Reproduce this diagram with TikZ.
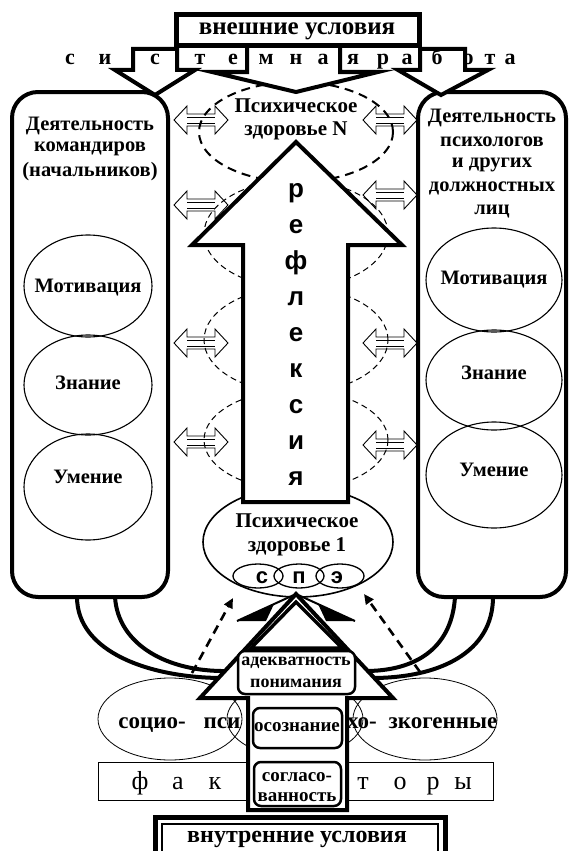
\documentclass[tikz,border=0pt]{standalone}
\usepackage{fontspec}
\setmainfont{Liberation Serif}
\newfontfamily\sansf{Liberation Sans}
\usetikzlibrary{arrows.meta}
\newcommand\fsz[1]{\fontsize{#1}{#1}\selectfont}
\begin{document}
\begin{tikzpicture}[x=1pt,y=-1pt,
  heavy/.style={line width=4pt, line join=miter},
  thinl/.style={line width=1.1pt},
  lbl/.style={inner sep=0pt, font=\bfseries\fsz{20.5}},
  pzl/.style={inner sep=0pt, font=\bfseries\fsz{21}},
  big/.style={inner sep=0pt, font=\bfseries\fsz{25}},
  sysl/.style={inner sep=0pt, anchor=base, font=\bfseries\fsz{22}},
  reflet/.style={inner sep=0pt, anchor=base, font=\sansf\bfseries\fsz{26}},
  spel/.style={inner sep=0pt, anchor=base, font=\sansf\bfseries\fsz{22}},
  facl/.style={inner sep=0pt, anchor=base, font=\fsz{26}},
  socl/.style={inner sep=0pt, anchor=base, font=\bfseries\fsz{23}},
  inbox/.style={draw, line width=2.5pt, rounded corners=7pt, fill=white},
  inl/.style={inner sep=0pt, font=\bfseries\fsz{19}},
  dasharr/.style={line width=2.6pt, dash pattern=on 9pt off 6pt, -{Triangle[length=10pt,width=9pt]}},
  dbl/.pic={\draw[line width=0.9pt] (-27,0) -- (-14,-14) -- (-14,-6) -- (14,-6) -- (14,-14) -- (27,0) -- (14,14) -- (14,6) -- (-14,6) -- (-14,14) -- cycle;
            \draw[line width=0.6pt] (-14,-3) -- (14,-3) (-14,3) -- (14,3);}
]
\useasboundingbox (0,0) rectangle (573,851);

% ---------- dashed chain in centre ----------
\draw[line width=2pt, dash pattern=on 9pt off 6pt] (296,132) ellipse [x radius=97pt, y radius=50pt];
\draw[line width=1pt, dash pattern=on 6pt off 4pt] (296,234) ellipse [x radius=92pt, y radius=54pt];
\draw[line width=1pt, dash pattern=on 6pt off 4pt] (296,340) ellipse [x radius=92pt, y radius=53pt];
\draw[line width=1pt, dash pattern=on 6pt off 4pt] (296,440) ellipse [x radius=92pt, y radius=50pt];

% ---------- Psychic health 1 ----------
\draw[line width=1.6pt] (298,542) ellipse [x radius=95pt, y radius=55pt];
\draw[line width=1.3pt] (258,576) ellipse [x radius=25pt, y radius=12pt];
\draw[line width=1.3pt] (299,576) ellipse [x radius=25pt, y radius=12pt];
\draw[line width=1.3pt] (340,576) ellipse [x radius=24pt, y radius=12pt];
\node[spel] (sc) at (262,583) {с};
\node[spel] (sp) at (299,583) {п};
\node[spel] (se) at (337,583) {э};
\node[pzl] (pz1a) at (297,521) {Психическое};
\node[pzl] (pz1b) at (297,547) {здоровье 1};

% ---------- big reflection arrow ----------
\draw[heavy, fill=white] (296,142) -- (402,245) -- (348,245) -- (348,502) -- (243,502) -- (243,245) -- (192,245) -- cycle;
\foreach \c/\y [count=\i] in {р/197, е/233, ф/269, л/305, е/341, к/377, с/413, и/449, я/485}
  \node[reflet] (rf\i) at (296,\y) {\c};

\node[pzl] (pzna) at (296,106) {Психическое};
\node[pzl] (pznb) at (296,131) {здоровье N};

% ---------- double arrows ----------
\foreach \x/\y in {201/120, 201/205, 201/343, 201/442, 390/120, 390/195, 390/343, 390/445}
  \pic at (\x,\y) {dbl};

% ---------- side boxes ----------
\draw[heavy, rounded corners=26pt] (12,92) rectangle (168,597);
\draw[heavy, rounded corners=26pt] (418,92) rectangle (566,597);

\node[lbl] (l1) at (90,126) {Деятельность};
\node[lbl] (l2) at (90,149) {командиров};
\node[lbl] (l3) at (90,172) {(начальников)};

\node[lbl] (r1) at (492,118) {Деятельность};
\node[lbl] (r2) at (492,142) {психологов};
\node[lbl] (r3) at (492,165) {и других};
\node[lbl] (r4) at (492,188) {должностных};
\node[lbl] (r5) at (492,212) {лиц};

\draw[thinl] (88,286) ellipse [x radius=64pt, y radius=51pt];
\draw[thinl] (88,385) ellipse [x radius=64pt, y radius=50pt];
\draw[thinl] (88,487) ellipse [x radius=64pt, y radius=53pt];
\node[lbl] (lm) at (88,288) {Мотивация};
\node[lbl] (lz) at (88,383) {Знание};
\node[lbl] (lu) at (88,477) {Умение};

\draw[thinl] (494,280) ellipse [x radius=68pt, y radius=52pt];
\draw[thinl] (494,380) ellipse [x radius=68pt, y radius=50pt];
\draw[thinl] (494,475) ellipse [x radius=68pt, y radius=53pt];
\node[lbl] (rm) at (494,280) {Мотивация};
\node[lbl] (rz) at (494,373) {Знание};
\node[lbl] (ru) at (494,470) {Умение};

% ---------- top arrows and box ----------
\draw[heavy, fill=white] (133,49) -- (177,49) -- (177,70) -- (195,70) -- (155,95) -- (115,70) -- (133,70) -- cycle;
\draw[heavy, fill=white] (247,45) -- (247,72) -- (212,72) -- (296,92) -- (378,72) -- (340,72) -- (340,45) -- cycle;
\draw[heavy, fill=white] (420,49) -- (465,49) -- (465,70) -- (488,70) -- (441,95) -- (398,70) -- (420,70) -- cycle;
\draw[line width=5pt, fill=white] (176,15) rectangle (419,46);
\node[big] (ext) at (297,31) {внешние условия};
\foreach \c/\x [count=\i] in {с/70, и/105, с/155, т/200, е/233, м/266, н/296, а/323, я/353, р/383, а/407, б/437, о/468, т/490, а/510}
  \node[sysl] (sw\i) at (\x,64) {\c};

% ---------- bottom part ----------
\draw[line width=0.8pt] (170,719) ellipse [x radius=72pt, y radius=41pt];
\draw[line width=0.8pt] (295,719) ellipse [x radius=68pt, y radius=38pt];
\draw[line width=0.8pt] (425,719) ellipse [x radius=72pt, y radius=41pt];
\draw[line width=1pt] (98,762) rectangle (493,800);

% U-shaped bands from the side boxes
\draw[heavy] (77,597) .. controls (77,652) and (150,678) .. (223,678);
\draw[heavy] (115,597) .. controls (118,645) and (168,672) .. (227,671);
\draw[heavy] (493,597) .. controls (493,652) and (440,678) .. (372,678);
\draw[heavy] (455,597) .. controls (452,645) and (420,670) .. (368,671);

% bottom arrow
\draw[heavy, fill=white] (296,594) -- (393,698) -- (347,698) -- (347,810) -- (248,810) -- (248,698) -- (200,698) -- cycle;
\fill (237,621) -- (274,604) -- (266,621) -- cycle;
\fill (355,621) -- (318,604) -- (326,621) -- cycle;
\draw[line width=2pt] (237,621) -- (296,594) -- (355,621);
\draw[line width=3.5pt, fill=white, line join=miter] (296,602) -- (342,648) -- (251,648) -- cycle;

\draw[inbox] (238,651) rectangle (355,694);
\node[inl, font=\bfseries\fsz{18}] (ad1) at (296,663) {адекватность};
\node[inl, font=\bfseries\fsz{18}] (ad2) at (296,683) {понимания};
\draw[inbox] (253,708) rectangle (342,748);
\node[inl] (os) at (297,727) {осознание};
\draw[inbox] (254,762) rectangle (341,806);
\node[inl] (sg1) at (297,777) {согласо-};
\node[inl] (sg2) at (297,797) {ванность};

% dashed arrows
\coordinate (dl0) at (192,673);
\coordinate (dl1) at (233,598);
\coordinate (dr0) at (420,672);
\coordinate (dr1) at (364,594);
\draw[dasharr] (dl0) -- (dl1);
\draw[dasharr] (dr0) -- (dr1);

% factor texts
\node[socl] (so1) at (152,728) {социо-};
\node[socl] (so2) at (222,728) {пси};
\node[socl] (so3) at (362,728) {хо-};
\node[socl] (so4) at (443,728) {зкогенные};
\foreach \c/\x [count=\i] in {ф/140, а/178, к/215, т/363, о/400, р/433, ы/463}
  \node[facl] (fa\i) at (\x,789) {\c};

% internal conditions box
\draw[line width=5pt] (155,817) rectangle (445,856);
\draw[line width=1.4pt] (162,824) rectangle (438,856);
\node[big, anchor=base, font=\bfseries\fsz{24}] (int) at (297,842) {внутренние условия};
\end{tikzpicture}
\end{document}
